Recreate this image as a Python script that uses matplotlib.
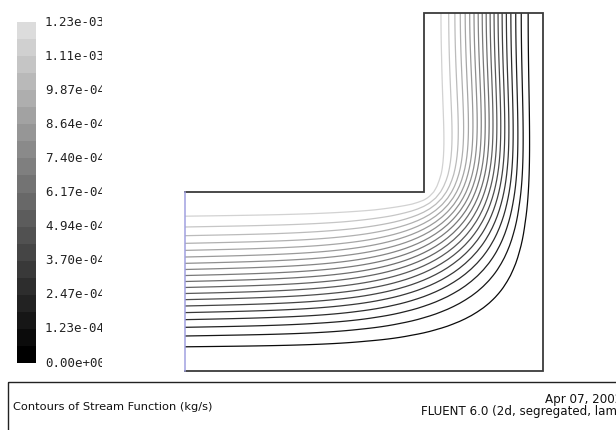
import numpy as np
import matplotlib
matplotlib.use("Agg")
import matplotlib.pyplot as plt
from matplotlib.colors import LinearSegmentedColormap, ListedColormap
from matplotlib.patches import Rectangle

# ---------------- elbow geometry (m) ----------------
inlet_height = 1.5
outlet_width = 1.0
upstream_length = 2.0
riser_length = 1.5

# ---------------- flow set-up ----------------
reynolds = 25.0          # mean inlet velocity x inlet height / viscosity
psi_max = 1.234e-3       # stream function on the inner wall (kg/s)
n_bands = 20

# ---------------- colour-bar labels ----------------
cbar_labels = ["0.00e+00", "1.23e-04", "2.47e-04", "3.70e-04", "4.94e-04",
               "6.17e-04", "7.40e-04", "8.64e-04", "9.87e-04", "1.11e-03",
               "1.23e-03"]

title_text = "Contours of Stream Function (kg/s)"
date_text = "Apr 07, 2002"
solver_text = "FLUENT 6.0 (2d, segregated, lam)"

# ============ steady laminar elbow flow: stream function / vorticity ============
h = 0.05
nx = int(round((upstream_length + outlet_width) / h))
ny = int(round((inlet_height + riser_length) / h))
ic = int(round(upstream_length / h))
jc = int(round(inlet_height / h))

H = inlet_height
U = 1.0
Q = U * H
nu = U * H / reynolds
inv_h2 = 1.0 / h ** 2

I, J = np.meshgrid(np.arange(nx + 1), np.arange(ny + 1), indexing="ij")
inner = (J >= jc) & (I <= ic)
fluid = (J <= jc) | (I >= ic)
interior = (I > 0) & (I < nx) & (J > 0) & (J < ny) & ~inner
outlet = (J == ny) & (I > ic) & (I < nx)
unknown = interior | outlet

s_in = np.arange(jc + 1) / jc
psi_bc = np.zeros((nx + 1, ny + 1))
psi_bc[inner] = Q
psi_bc[0, :jc + 1] = Q * (3 * s_in ** 2 - 2 * s_in ** 3)   # developed inlet
omega_in = -6 * U / H * (1 - 2 * s_in)

# unknown stream-function nodes
pts = np.argwhere(unknown)
N = len(pts)
ui, uj = pts[:, 0], pts[:, 1]
idx = -np.ones((nx + 1, ny + 1), dtype=int)
idx[ui, uj] = np.arange(N)

# Laplacian on unknowns (zero-gradient mirror at the outflow)
A = np.zeros((N, N))
b = np.zeros(N)
for k, (i, j) in enumerate(pts):
    A[k, k] = -4 * inv_h2
    if j == ny:
        nbrs = [(i - 1, j, 1.0), (i + 1, j, 1.0), (i, j - 1, 2.0)]
    else:
        nbrs = [(i - 1, j, 1.0), (i + 1, j, 1.0), (i, j - 1, 1.0), (i, j + 1, 1.0)]
    for p, q, w in nbrs:
        if idx[p, q] >= 0:
            A[k, idx[p, q]] += w * inv_h2
        else:
            b[k] += w * inv_h2 * psi_bc[p, q]

# vorticity on every domain node as an affine map of the unknown psi
dom = np.argwhere(fluid)
M = len(dom)
didx = -np.ones((nx + 1, ny + 1), dtype=int)
didx[dom[:, 0], dom[:, 1]] = np.arange(M)
E = np.zeros((M, N))
e = np.zeros(M)
E[didx[ui, uj]] = -A
e[didx[ui, uj]] = -b


def thom(wi, wj, ai, aj, weight=1.0):
    r = didx[wi, wj]
    k = idx[ai, aj]
    if k >= 0:
        E[r, k] += -2 * inv_h2 * weight
    else:
        e[r] += -2 * inv_h2 * weight * psi_bc[ai, aj]
    e[r] += 2 * inv_h2 * weight * psi_bc[wi, wj]


for i in range(1, nx):
    thom(i, 0, i, 1)
for j in range(1, ny + 1):
    thom(nx, j, nx - 1, j)
for i in range(1, ic):
    thom(i, jc, i, jc - 1)
for j in range(jc + 1, ny + 1):
    thom(ic, j, ic + 1, j)
thom(ic, jc, ic + 1, jc, 0.5)
thom(ic, jc, ic, jc - 1, 0.5)
for j in range(jc + 1):
    e[didx[0, j]] = omega_in[j]

rC = didx[ui, uj]
rE = didx[ui + 1, uj]
rW = didx[ui - 1, uj]
jN = np.where(uj == ny, uj - 1, uj + 1)
rN = didx[ui, jN]
rS = didx[ui, uj - 1]


def full_psi(psi_u):
    P = psi_bc.copy()
    P[ui, uj] = psi_u
    return P


def solve_step(psi_u):
    P = full_psi(psi_u)
    u = (P[ui, jN] - P[ui, uj - 1]) / (2 * h)
    v = -(P[ui + 1, uj] - P[ui - 1, uj]) / (2 * h)
    cC = np.full(N, -4 * nu * inv_h2)
    cE = nu * inv_h2 - u / (2 * h)
    cW = nu * inv_h2 + u / (2 * h)
    cN = nu * inv_h2 - v / (2 * h)
    cS = nu * inv_h2 + v / (2 * h)
    G = (cC[:, None] * E[rC] + cE[:, None] * E[rE] + cW[:, None] * E[rW]
         + cN[:, None] * E[rN] + cS[:, None] * E[rS])
    rhs = -(cC * e[rC] + cE * e[rE] + cW * e[rW] + cN * e[rN] + cS * e[rS])
    return np.linalg.solve(G, rhs)


psi_u = np.linalg.solve(A, -b)
for it in range(40):
    new = solve_step(psi_u)
    change = np.max(np.abs(new - psi_u))
    psi_u = 0.7 * new + 0.3 * psi_u
    if change < 1e-6 * Q:
        break

psi = full_psi(psi_u) * psi_max / Q
psi = np.ma.masked_where(~fluid, psi)
X = I * h
Y = J * h

# ================= drawing =================
W_PX, H_PX = 616, 430


def fig_rect(x0, y0, x1, y1):
    return [x0 / W_PX, 1 - y1 / H_PX, (x1 - x0) / W_PX, (y1 - y0) / H_PX]


fig = plt.figure(figsize=(W_PX / 100, H_PX / 100), dpi=100)
fig.patch.set_facecolor("white")

gray = LinearSegmentedColormap.from_list("fluent_gray", ["#000000", "#dcdcdc"])

ax = fig.add_axes(fig_rect(185, 13, 543, 371))
Lx = upstream_length + outlet_width
Ly = inlet_height + riser_length
ax.set_xlim(0, Lx)
ax.set_ylim(0, Ly)
ax.axis("off")

levels = np.linspace(0, psi_max, n_bands + 1)[1:-1]
ax.contour(X, Y, psi, levels=levels, colors=[gray(l / psi_max) for l in levels],
           linewidths=0.9)

wall_x = [0, Lx, Lx, upstream_length, upstream_length, 0]
wall_y = [0, 0, Ly, Ly, inlet_height, inlet_height]
ax.plot(wall_x, wall_y, color="#3a3a3a", lw=1.3, clip_on=False,
        solid_joinstyle="miter")
ax.plot([0, 0], [0, inlet_height], color="#a0a0e0", lw=1.1, clip_on=False)

# colour bar
cax = fig.add_axes(fig_rect(17, 22, 36, 363))
band_cmap = ListedColormap(gray(np.linspace(0, 1, n_bands)))
cax.imshow(np.arange(n_bands).reshape(-1, 1), origin="lower", aspect="auto",
           cmap=band_cmap, extent=[0, 1, 0, psi_max], interpolation="nearest")
cax.axis("off")

lab = fig.add_axes(fig_rect(40, 8, 102, 376))
lab.set_xlim(40, 102)
lab.set_ylim(376, 8)
lab.axis("off")
for k, txt in enumerate(cbar_labels):
    ypix = 363 - k / (len(cbar_labels) - 1) * (363 - 22)
    lab.text(45, ypix, txt, family="DejaVu Sans Mono", fontsize=9,
             va="center", ha="left", color="#222222", clip_on=True)

# footer
ov = fig.add_axes([0, 0, 1, 1])
ov.set_xlim(0, W_PX)
ov.set_ylim(H_PX, 0)
ov.axis("off")
ov.add_patch(Rectangle((8, 382), 700, 100, fill=False, ec="#222222", lw=1.0,
                       clip_on=False))
ov.text(13, 407, title_text, fontsize=8.2, va="center", ha="left", color="#111111")
ov.text(622, 400, date_text, fontsize=8.6, va="center", ha="right", color="#111111")
ov.text(622, 412, solver_text, fontsize=8.6, va="center", ha="right", color="#111111")

fig.savefig("out.png", dpi=100)
